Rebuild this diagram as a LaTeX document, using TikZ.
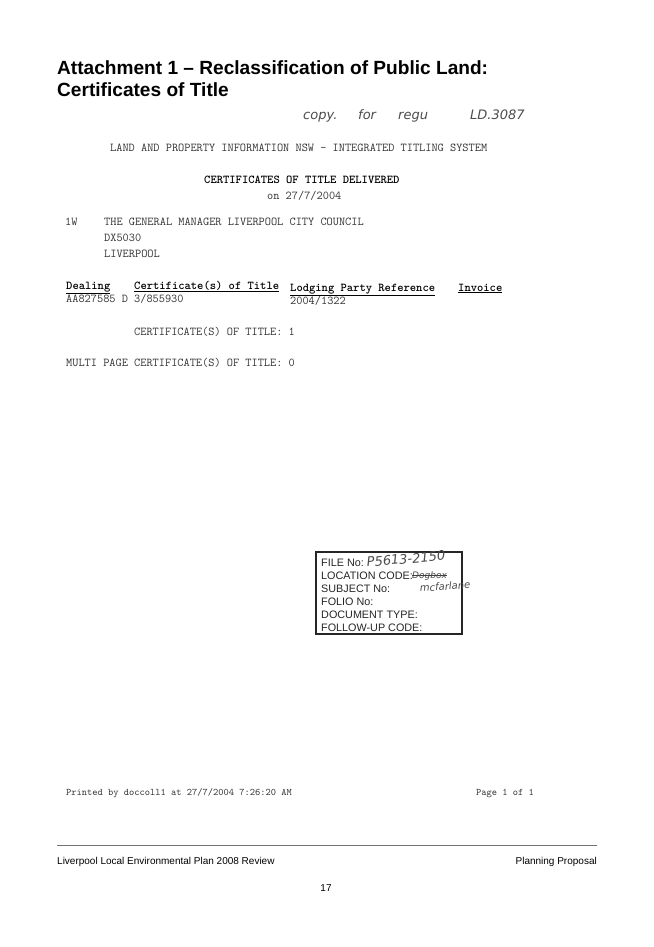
\documentclass[tikz,border=0pt]{standalone}
\usepackage{fontspec}
\setmainfont{Liberation Sans}
\newfontfamily\handfont{DejaVu Sans}
\begin{document}
\begin{tikzpicture}[x=1pt, y=-1pt,
title/.style={anchor=base west, inner sep=0pt, font=\fontsize{19.1}{22}\selectfont\bfseries},
scan/.style={anchor=base west, inner sep=0pt, text=black!80, font=\fontsize{12}{13}\ttfamily},
scanbold/.style={scan, text=black, font=\fontsize{12}{13}\ttfamily\bfseries},
small/.style={scan, font=\fontsize{10}{12}\ttfamily},
hand/.style={anchor=base west, inner sep=0pt, text=black!70, font=\fontsize{13}{14}\handfont\itshape},
stamp/.style={anchor=base west, inner sep=0pt, text=black!85, font=\fontsize{10.8}{12}\selectfont},
footer/.style={anchor=base west, inner sep=0pt, font=\fontsize{10}{12}\selectfont},
]
\useasboundingbox[fill=white] (0,0) rectangle (653,947);
% page title
\node[title] (title1) at (57,75) {Attachment 1 -- Reclassification of Public Land:};
\node[title] (title2) at (57,97) {Certificates of Title};
% handwritten note
\node[hand] (note1) at (303,120) {copy.};
\node[hand] (note2) at (358,120) {for};
\node[hand] (note3) at (398,120) {regu};
\node[hand] (note4) at (470,120) {LD.3087};
% scanned certificate
\node[scan] (lpi) at (110,151) {LAND AND PROPERTY INFORMATION NSW - INTEGRATED TITLING SYSTEM};
\node[scanbold] (delivered) at (204,183) {CERTIFICATES OF TITLE DELIVERED};
\node[scan] (date) at (267,199) {on 27/7/2004};
\node[scan] (box) at (65,225) {1W};
\node[scan] (addr1) at (104,225) {THE GENERAL MANAGER LIVERPOOL CITY COUNCIL};
\node[scan] (addr2) at (104,241) {DX5030};
\node[scan] (addr3) at (104,257) {LIVERPOOL};
% table
\node[scanbold] (dealing) at (66,289) {\underline{Dealing}};
\node[scanbold] (cert) at (134,289) {\underline{Certificate(s) of Title}};
\node[scanbold] (lodging) at (290,291) {\underline{Lodging Party Reference}};
\node[scanbold] (invoice) at (458,291) {\underline{Invoice}};
\node[scan] (row1) at (66,302) {AA827585 D 3/855930};
\node[scan] (ref1) at (290,304) {2004/1322};
\node[scan] (count) at (134,335) {CERTIFICATE(S) OF TITLE: 1};
\node[scan] (multi) at (66,366) {MULTI PAGE CERTIFICATE(S) OF TITLE: 0};
% file stamp
\draw[line width=1.3pt, black!85] (316,552) rectangle (462,634);
\node[stamp] (fileno) at (321,566) {FILE No:};
\node[stamp] (location) at (321,579) {LOCATION CODE:};
\node[stamp] (subject) at (321,592) {SUBJECT No:};
\node[stamp] (folio) at (321,605) {FOLIO No:};
\node[stamp] (doctype) at (321,618) {DOCUMENT TYPE:};
\node[stamp] (followup) at (321,631) {FOLLOW-UP CODE:};
\node[hand, rotate=5] (fileval) at (367,567) {P5613-2150};
\node[hand, font=\fontsize{9}{11}\handfont\itshape] (locval) at (412,578) {Dogbox};
\draw[black!75, line width=1pt] (locval.west) -- (locval.east);
\node[hand, rotate=4, font=\fontsize{10}{12}\handfont\itshape] (subval) at (420,592) {mcfarlane};
% print line
\node[small] (printed) at (66,795) {Printed by doccoll1 at 27/7/2004 7:26:20 AM};
\node[small] (pageno) at (476,795) {Page 1 of 1};
% footer
\coordinate (ruleL) at (57,845);
\coordinate (ruleR) at (597,845);
\draw[black!55, line width=0.8pt] (ruleL) -- (ruleR);
\node[footer] (plan) at (57,864) {Liverpool Local Environmental Plan 2008 Review};
\node[footer, anchor=base east] (proposal) at (597,864) {Planning Proposal};
\node[footer, anchor=base] (pnum) at (326,891) {17};
\end{tikzpicture}
\end{document}
